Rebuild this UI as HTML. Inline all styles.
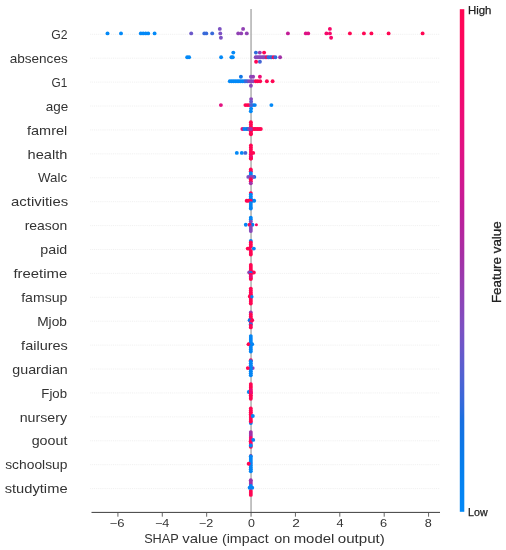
<!DOCTYPE html>
<html><head><meta charset="utf-8"><title>SHAP summary</title>
<style>
html,body{margin:0;padding:0;background:#fff;}
body{width:506px;height:550px;overflow:hidden;font-family:"Liberation Sans",sans-serif;}
svg{display:block;will-change:transform;}
svg text{font-family:"Liberation Sans",sans-serif;fill:#333333;}
</style></head><body>
<svg width="506" height="550" viewBox="0 0 506 550">
<rect width="506" height="550" fill="#ffffff"/>
<defs><linearGradient id="cb" x1="0" y1="1" x2="0" y2="0"><stop offset="0.000" stop-color="#0389f7"/><stop offset="0.030" stop-color="#0485f4"/><stop offset="0.061" stop-color="#0582f0"/><stop offset="0.091" stop-color="#067eec"/><stop offset="0.121" stop-color="#0b79e8"/><stop offset="0.152" stop-color="#1174e4"/><stop offset="0.182" stop-color="#186fe0"/><stop offset="0.212" stop-color="#326adb"/><stop offset="0.242" stop-color="#4365d6"/><stop offset="0.273" stop-color="#5361d1"/><stop offset="0.303" stop-color="#615ccd"/><stop offset="0.333" stop-color="#6f56c8"/><stop offset="0.364" stop-color="#7c51c2"/><stop offset="0.394" stop-color="#854abc"/><stop offset="0.424" stop-color="#8e44b6"/><stop offset="0.455" stop-color="#973db0"/><stop offset="0.485" stop-color="#9f35aa"/><stop offset="0.515" stop-color="#a72ea4"/><stop offset="0.545" stop-color="#b129a0"/><stop offset="0.576" stop-color="#b9229c"/><stop offset="0.606" stop-color="#c21c97"/><stop offset="0.636" stop-color="#cb1a93"/><stop offset="0.667" stop-color="#d3178d"/><stop offset="0.697" stop-color="#da1488"/><stop offset="0.727" stop-color="#e11282"/><stop offset="0.758" stop-color="#e70f7c"/><stop offset="0.788" stop-color="#ec0d77"/><stop offset="0.818" stop-color="#f00a71"/><stop offset="0.848" stop-color="#f5086c"/><stop offset="0.879" stop-color="#f90667"/><stop offset="0.909" stop-color="#fc0662"/><stop offset="0.939" stop-color="#fd065d"/><stop offset="0.970" stop-color="#ff0658"/><stop offset="1.000" stop-color="#ff0653"/><stop offset="1" stop-color="#ff0653"/></linearGradient></defs>
<g stroke="#ececec" stroke-width="0.8" stroke-dasharray="1 0.9" fill="none">
<line x1="90.2" y1="34.30" x2="440.0" y2="34.30"/><line x1="90.2" y1="58.21" x2="440.0" y2="58.21"/><line x1="90.2" y1="82.12" x2="440.0" y2="82.12"/><line x1="90.2" y1="106.03" x2="440.0" y2="106.03"/><line x1="90.2" y1="129.94" x2="440.0" y2="129.94"/><line x1="90.2" y1="153.85" x2="440.0" y2="153.85"/><line x1="90.2" y1="177.76" x2="440.0" y2="177.76"/><line x1="90.2" y1="201.67" x2="440.0" y2="201.67"/><line x1="90.2" y1="225.58" x2="440.0" y2="225.58"/><line x1="90.2" y1="249.49" x2="440.0" y2="249.49"/><line x1="90.2" y1="273.40" x2="440.0" y2="273.40"/><line x1="90.2" y1="297.31" x2="440.0" y2="297.31"/><line x1="90.2" y1="321.22" x2="440.0" y2="321.22"/><line x1="90.2" y1="345.13" x2="440.0" y2="345.13"/><line x1="90.2" y1="369.04" x2="440.0" y2="369.04"/><line x1="90.2" y1="392.95" x2="440.0" y2="392.95"/><line x1="90.2" y1="416.86" x2="440.0" y2="416.86"/><line x1="90.2" y1="440.77" x2="440.0" y2="440.77"/><line x1="90.2" y1="464.68" x2="440.0" y2="464.68"/><line x1="90.2" y1="488.59" x2="440.0" y2="488.59"/>
</g>
<line x1="251.05" y1="8.9" x2="251.05" y2="512.4" stroke="#aaaaaa" stroke-width="1.4"/>
<g>
<circle cx="107.5" cy="33.4" r="1.95" fill="#0389f7"/><circle cx="121.0" cy="33.4" r="1.95" fill="#0389f7"/><circle cx="140.8" cy="33.4" r="1.95" fill="#0389f7"/><circle cx="143.2" cy="33.4" r="1.95" fill="#0389f7"/><circle cx="145.7" cy="33.4" r="1.95" fill="#0389f7"/><circle cx="148.2" cy="33.4" r="1.95" fill="#0389f7"/><circle cx="154.6" cy="33.4" r="1.95" fill="#0389f7"/><circle cx="191.2" cy="33.4" r="1.95" fill="#6b58c9"/><circle cx="204.3" cy="33.4" r="1.95" fill="#3869d9"/><circle cx="206.3" cy="33.4" r="1.95" fill="#3869d9"/><circle cx="212.2" cy="33.4" r="1.95" fill="#3869d9"/><circle cx="219.8" cy="28.9" r="1.95" fill="#7c51c2"/><circle cx="220.3" cy="33.4" r="1.95" fill="#7c51c2"/><circle cx="220.9" cy="37.8" r="1.95" fill="#7c51c2"/><circle cx="238.2" cy="33.4" r="1.95" fill="#9141b4"/><circle cx="241.2" cy="33.4" r="1.95" fill="#9141b4"/><circle cx="243.1" cy="28.9" r="1.95" fill="#9141b4"/><circle cx="246.8" cy="33.4" r="1.95" fill="#9141b4"/><circle cx="287.9" cy="33.4" r="1.95" fill="#c21c97"/><circle cx="305.8" cy="33.4" r="1.95" fill="#de1284"/><circle cx="308.2" cy="33.4" r="1.95" fill="#de1284"/><circle cx="326.4" cy="33.4" r="1.95" fill="#f6086a"/><circle cx="329.9" cy="28.9" r="1.95" fill="#f6086a"/><circle cx="329.9" cy="33.4" r="1.95" fill="#f6086a"/><circle cx="331.1" cy="37.8" r="1.95" fill="#f6086a"/><circle cx="349.9" cy="33.4" r="1.95" fill="#ff0653"/><circle cx="363.9" cy="33.4" r="1.95" fill="#ff0653"/><circle cx="371.4" cy="33.4" r="1.95" fill="#ff0653"/><circle cx="388.6" cy="33.4" r="1.95" fill="#ff0653"/><circle cx="422.6" cy="33.4" r="1.95" fill="#ff0653"/><circle cx="187.2" cy="57.3" r="1.95" fill="#0389f7"/><circle cx="189.1" cy="57.3" r="1.95" fill="#0389f7"/><circle cx="221.1" cy="57.3" r="1.95" fill="#0389f7"/><circle cx="231.4" cy="57.3" r="1.95" fill="#0389f7"/><circle cx="232.8" cy="57.3" r="1.95" fill="#0389f7"/><circle cx="233.3" cy="52.6" r="1.95" fill="#0389f7"/><circle cx="255.7" cy="57.3" r="1.95" fill="#8848ba"/><circle cx="257.2" cy="57.3" r="1.95" fill="#8848ba"/><circle cx="258.9" cy="57.3" r="1.95" fill="#8848ba"/><circle cx="260.4" cy="57.3" r="1.95" fill="#8848ba"/><circle cx="262.1" cy="57.3" r="1.95" fill="#8848ba"/><circle cx="263.6" cy="57.3" r="1.95" fill="#8848ba"/><circle cx="265.2" cy="57.3" r="1.95" fill="#8848ba"/><circle cx="266.9" cy="57.3" r="1.95" fill="#ff0653"/><circle cx="268.4" cy="57.3" r="1.95" fill="#2c6cdc"/><circle cx="270.1" cy="57.3" r="1.95" fill="#2c6cdc"/><circle cx="271.6" cy="57.3" r="1.95" fill="#2c6cdc"/><circle cx="273.6" cy="57.3" r="1.95" fill="#ff0653"/><circle cx="275.4" cy="57.3" r="1.95" fill="#2c6cdc"/><circle cx="280.1" cy="57.3" r="1.95" fill="#a132a7"/><circle cx="255.9" cy="52.6" r="1.95" fill="#2c6cdc"/><circle cx="259.8" cy="52.6" r="1.95" fill="#993aae"/><circle cx="264.1" cy="52.6" r="1.95" fill="#ff0653"/><circle cx="256.1" cy="61.8" r="1.95" fill="#ff0653"/><circle cx="259.9" cy="61.8" r="1.95" fill="#4365d6"/><circle cx="229.8" cy="81.2" r="1.95" fill="#0389f7"/><circle cx="231.7" cy="81.2" r="1.95" fill="#0389f7"/><circle cx="233.5" cy="81.2" r="1.95" fill="#0389f7"/><circle cx="235.3" cy="81.2" r="1.95" fill="#0389f7"/><circle cx="237.1" cy="81.2" r="1.95" fill="#0389f7"/><circle cx="238.9" cy="81.2" r="1.95" fill="#0389f7"/><circle cx="240.7" cy="81.2" r="1.95" fill="#0389f7"/><circle cx="242.5" cy="81.2" r="1.95" fill="#0389f7"/><circle cx="244.3" cy="81.2" r="1.95" fill="#0389f7"/><circle cx="245.8" cy="81.2" r="1.95" fill="#4365d6"/><circle cx="247.4" cy="81.2" r="1.95" fill="#4365d6"/><circle cx="249.2" cy="81.2" r="1.95" fill="#8848ba"/><circle cx="251.2" cy="81.2" r="1.95" fill="#8848ba"/><circle cx="253.2" cy="81.2" r="1.95" fill="#8848ba"/><circle cx="255.8" cy="81.2" r="1.95" fill="#ff0653"/><circle cx="257.8" cy="81.2" r="1.95" fill="#ff0653"/><circle cx="260.2" cy="81.2" r="1.95" fill="#ff0653"/><circle cx="266.9" cy="81.2" r="1.95" fill="#ff0653"/><circle cx="272.6" cy="81.2" r="1.95" fill="#ff0653"/><circle cx="240.9" cy="76.7" r="1.95" fill="#1174e4"/><circle cx="250.9" cy="76.7" r="1.95" fill="#8848ba"/><circle cx="253.1" cy="76.7" r="1.95" fill="#943fb2"/><circle cx="259.9" cy="76.7" r="1.95" fill="#ee0c75"/><circle cx="250.9" cy="85.7" r="1.95" fill="#8848ba"/><circle cx="220.9" cy="105.1" r="1.95" fill="#e31180"/><circle cx="271.4" cy="105.1" r="1.95" fill="#0389f7"/><circle cx="245.4" cy="105.1" r="1.95" fill="#ff0653"/><circle cx="247.4" cy="105.1" r="1.95" fill="#ff0653"/><circle cx="249.2" cy="105.1" r="1.95" fill="#ff0653"/><circle cx="251.1" cy="108.6" r="1.95" fill="#0389f7"/><circle cx="250.8" cy="111.3" r="1.95" fill="#0389f7"/><circle cx="251.1" cy="99.1" r="1.95" fill="#8848ba"/><circle cx="251.1" cy="101.7" r="1.95" fill="#615ccd"/><circle cx="252.8" cy="105.1" r="1.95" fill="#0583f1"/><circle cx="254.8" cy="105.1" r="1.95" fill="#0583f1"/><circle cx="251.1" cy="105.1" r="1.95" fill="#4964d5"/><circle cx="242.4" cy="129.0" r="1.95" fill="#ee0c75"/><circle cx="244.2" cy="129.0" r="1.95" fill="#0583f1"/><circle cx="246.1" cy="129.0" r="1.95" fill="#0583f1"/><circle cx="247.8" cy="129.0" r="1.95" fill="#1174e4"/><circle cx="250.9" cy="122.3" r="1.95" fill="#ff0653"/><circle cx="250.9" cy="124.5" r="1.95" fill="#ff0653"/><circle cx="250.9" cy="126.7" r="1.95" fill="#ff0653"/><circle cx="250.9" cy="131.2" r="1.95" fill="#ff0653"/><circle cx="250.9" cy="133.3" r="1.95" fill="#ff0653"/><circle cx="250.9" cy="134.3" r="1.95" fill="#ff0653"/><circle cx="252.8" cy="129.0" r="1.95" fill="#ff0653"/><circle cx="254.3" cy="129.0" r="1.95" fill="#ff0653"/><circle cx="255.9" cy="129.0" r="1.95" fill="#ff0653"/><circle cx="257.5" cy="129.0" r="1.95" fill="#ff0653"/><circle cx="259.1" cy="129.0" r="1.95" fill="#ff0653"/><circle cx="260.8" cy="129.0" r="1.95" fill="#ff0653"/><circle cx="249.2" cy="129.0" r="1.95" fill="#8848ba"/><circle cx="250.9" cy="129.0" r="1.95" fill="#a132a7"/><circle cx="236.8" cy="152.9" r="1.95" fill="#0389f7"/><circle cx="241.8" cy="152.9" r="1.95" fill="#0389f7"/><circle cx="245.4" cy="152.9" r="1.95" fill="#4365d6"/><circle cx="250.9" cy="145.4" r="1.95" fill="#ff0653"/><circle cx="250.9" cy="147.6" r="1.95" fill="#ff0653"/><circle cx="250.9" cy="149.8" r="1.95" fill="#ff0653"/><circle cx="250.9" cy="152.0" r="1.95" fill="#ff0653"/><circle cx="250.9" cy="154.2" r="1.95" fill="#ff0653"/><circle cx="250.9" cy="156.4" r="1.95" fill="#ff0653"/><circle cx="250.9" cy="158.6" r="1.95" fill="#ff0653"/><circle cx="250.9" cy="157.1" r="1.95" fill="#e5107e"/><circle cx="250.9" cy="158.6" r="1.95" fill="#ff0653"/><circle cx="253.2" cy="152.9" r="1.95" fill="#ff0653"/><circle cx="250.8" cy="169.4" r="1.95" fill="#ff0653"/><circle cx="250.8" cy="171.3" r="1.95" fill="#ff0653"/><circle cx="250.8" cy="173.1" r="1.95" fill="#0583f1"/><circle cx="250.8" cy="174.8" r="1.95" fill="#0583f1"/><circle cx="254.3" cy="176.9" r="1.95" fill="#1174e4"/><circle cx="248.3" cy="176.9" r="1.95" fill="#7c51c2"/><circle cx="252.8" cy="176.9" r="1.95" fill="#7c51c2"/><circle cx="250.8" cy="176.9" r="1.95" fill="#8b46b8"/><circle cx="250.8" cy="179.3" r="1.95" fill="#ff0653"/><circle cx="250.8" cy="181.3" r="1.95" fill="#ff0653"/><circle cx="250.8" cy="183.2" r="1.95" fill="#9f35aa"/><circle cx="250.8" cy="193.1" r="1.95" fill="#ff0653"/><circle cx="250.8" cy="194.6" r="1.95" fill="#0485f4"/><circle cx="250.8" cy="196.6" r="1.95" fill="#0485f4"/><circle cx="250.8" cy="198.4" r="1.95" fill="#0485f4"/><circle cx="246.7" cy="200.8" r="1.95" fill="#ff0653"/><circle cx="248.2" cy="200.8" r="1.95" fill="#ff0653"/><circle cx="252.2" cy="200.8" r="1.95" fill="#0485f4"/><circle cx="254.2" cy="200.8" r="1.95" fill="#0485f4"/><circle cx="250.6" cy="200.8" r="1.95" fill="#ff0653"/><circle cx="250.8" cy="203.1" r="1.95" fill="#0485f4"/><circle cx="250.8" cy="205.1" r="1.95" fill="#0485f4"/><circle cx="250.8" cy="207.1" r="1.95" fill="#0485f4"/><circle cx="250.8" cy="208.5" r="1.95" fill="#0485f4"/><circle cx="250.8" cy="217.8" r="1.95" fill="#0485f4"/><circle cx="250.8" cy="219.6" r="1.95" fill="#0485f4"/><circle cx="250.8" cy="221.6" r="1.95" fill="#8848ba"/><circle cx="245.8" cy="224.7" r="1.95" fill="#0485f4"/><circle cx="252.4" cy="224.7" r="1.95" fill="#0583f1"/><circle cx="249.6" cy="224.7" r="1.95" fill="#ff0653"/><circle cx="256.4" cy="224.7" r="1.50" fill="#fb0663"/><circle cx="250.8" cy="227.1" r="1.95" fill="#8848ba"/><circle cx="250.8" cy="229.1" r="1.95" fill="#8848ba"/><circle cx="250.8" cy="231.0" r="1.95" fill="#8848ba"/><circle cx="250.8" cy="241.0" r="1.95" fill="#0485f4"/><circle cx="250.8" cy="242.5" r="1.95" fill="#ff0653"/><circle cx="250.8" cy="244.5" r="1.95" fill="#ff0653"/><circle cx="250.8" cy="246.5" r="1.95" fill="#ff0653"/><circle cx="253.8" cy="248.6" r="1.95" fill="#0485f4"/><circle cx="247.7" cy="248.6" r="1.95" fill="#ff0653"/><circle cx="249.2" cy="248.6" r="1.95" fill="#ff0653"/><circle cx="250.8" cy="251.0" r="1.95" fill="#ff0653"/><circle cx="250.8" cy="253.0" r="1.95" fill="#ff0653"/><circle cx="250.8" cy="254.6" r="1.95" fill="#ff0653"/><circle cx="250.8" cy="265.0" r="1.95" fill="#ff0653"/><circle cx="250.8" cy="266.9" r="1.95" fill="#ff0653"/><circle cx="250.8" cy="268.9" r="1.95" fill="#ff0653"/><circle cx="250.8" cy="270.7" r="1.95" fill="#ff0653"/><circle cx="249.2" cy="272.5" r="1.95" fill="#943fb2"/><circle cx="252.4" cy="272.5" r="1.95" fill="#ff0653"/><circle cx="253.8" cy="272.5" r="1.95" fill="#ff0653"/><circle cx="250.9" cy="272.5" r="1.60" fill="#067deb"/><circle cx="250.8" cy="274.7" r="1.95" fill="#ff0653"/><circle cx="250.8" cy="278.1" r="1.95" fill="#ff0653"/><circle cx="250.8" cy="279.0" r="1.95" fill="#ff0653"/><circle cx="250.8" cy="276.4" r="1.95" fill="#e5107e"/><circle cx="250.8" cy="288.6" r="1.95" fill="#ff0653"/><circle cx="250.8" cy="290.5" r="1.95" fill="#ff0653"/><circle cx="250.8" cy="292.4" r="1.95" fill="#ff0653"/><circle cx="250.8" cy="294.2" r="1.95" fill="#ff0653"/><circle cx="250.8" cy="296.1" r="1.95" fill="#ff0653"/><circle cx="250.8" cy="298.0" r="1.95" fill="#ff0653"/><circle cx="250.8" cy="299.9" r="1.95" fill="#ff0653"/><circle cx="250.8" cy="301.7" r="1.95" fill="#ff0653"/><circle cx="250.8" cy="303.6" r="1.95" fill="#ff0653"/><circle cx="249.8" cy="296.4" r="1.95" fill="#ff0653"/><circle cx="251.9" cy="296.8" r="1.70" fill="#0583f1"/><circle cx="250.8" cy="312.4" r="1.95" fill="#9f35aa"/><circle cx="250.8" cy="314.4" r="1.95" fill="#ff0653"/><circle cx="250.8" cy="316.4" r="1.95" fill="#ff0653"/><circle cx="250.8" cy="318.2" r="1.95" fill="#ff0653"/><circle cx="249.6" cy="320.3" r="1.95" fill="#1174e4"/><circle cx="252.2" cy="320.3" r="1.95" fill="#ff0653"/><circle cx="250.8" cy="322.7" r="1.95" fill="#ff0653"/><circle cx="250.8" cy="324.2" r="1.95" fill="#2c6cdc"/><circle cx="250.8" cy="325.7" r="1.95" fill="#ff0653"/><circle cx="250.8" cy="327.4" r="1.95" fill="#ff0653"/><circle cx="248.9" cy="344.2" r="1.95" fill="#ff0653"/><circle cx="250.8" cy="336.1" r="1.95" fill="#0485f4"/><circle cx="250.8" cy="338.1" r="1.95" fill="#0485f4"/><circle cx="250.8" cy="340.0" r="1.95" fill="#0485f4"/><circle cx="250.8" cy="341.9" r="1.95" fill="#0485f4"/><circle cx="250.8" cy="343.8" r="1.95" fill="#0485f4"/><circle cx="250.8" cy="345.8" r="1.95" fill="#0485f4"/><circle cx="250.8" cy="347.7" r="1.95" fill="#0485f4"/><circle cx="250.8" cy="349.6" r="1.95" fill="#0485f4"/><circle cx="250.8" cy="351.5" r="1.95" fill="#0485f4"/><circle cx="252.2" cy="344.2" r="1.95" fill="#0485f4"/><circle cx="248.4" cy="344.2" r="1.80" fill="#ff0653"/><circle cx="250.8" cy="360.2" r="1.95" fill="#ff0653"/><circle cx="252.7" cy="368.1" r="1.95" fill="#943fb2"/><circle cx="250.8" cy="361.3" r="1.95" fill="#0485f4"/><circle cx="250.8" cy="363.3" r="1.95" fill="#0485f4"/><circle cx="250.8" cy="365.3" r="1.95" fill="#0485f4"/><circle cx="250.8" cy="367.3" r="1.95" fill="#0485f4"/><circle cx="250.8" cy="369.3" r="1.95" fill="#0485f4"/><circle cx="250.8" cy="371.3" r="1.95" fill="#0485f4"/><circle cx="250.8" cy="373.3" r="1.95" fill="#0485f4"/><circle cx="250.8" cy="375.2" r="1.95" fill="#0485f4"/><circle cx="247.8" cy="368.1" r="1.95" fill="#ff0653"/><circle cx="248.8" cy="392.0" r="1.95" fill="#0485f4"/><circle cx="250.8" cy="384.1" r="1.95" fill="#ff0653"/><circle cx="250.8" cy="386.0" r="1.95" fill="#ff0653"/><circle cx="250.8" cy="387.8" r="1.95" fill="#ff0653"/><circle cx="250.8" cy="389.7" r="1.95" fill="#ff0653"/><circle cx="250.8" cy="391.5" r="1.95" fill="#ff0653"/><circle cx="250.8" cy="393.3" r="1.95" fill="#ff0653"/><circle cx="250.8" cy="395.2" r="1.95" fill="#ff0653"/><circle cx="250.8" cy="397.0" r="1.95" fill="#ff0653"/><circle cx="250.8" cy="398.8" r="1.95" fill="#ff0653"/><circle cx="250.8" cy="389.7" r="1.50" fill="#eb0d78"/><circle cx="251.2" cy="392.4" r="1.50" fill="#eb0d78"/><circle cx="250.8" cy="408.5" r="1.95" fill="#ff0653"/><circle cx="250.8" cy="410.4" r="1.95" fill="#ff0653"/><circle cx="250.8" cy="412.3" r="1.95" fill="#ff0653"/><circle cx="250.8" cy="414.2" r="1.95" fill="#ff0653"/><circle cx="250.8" cy="416.1" r="1.95" fill="#ff0653"/><circle cx="250.8" cy="418.0" r="1.95" fill="#ff0653"/><circle cx="250.8" cy="419.9" r="1.95" fill="#ff0653"/><circle cx="252.8" cy="416.0" r="1.95" fill="#0485f4"/><circle cx="250.8" cy="423.1" r="1.95" fill="#0485f4"/><circle cx="250.8" cy="421.6" r="1.95" fill="#ff0653"/><circle cx="250.8" cy="432.1" r="1.95" fill="#a132a7"/><circle cx="250.8" cy="433.9" r="1.95" fill="#a132a7"/><circle cx="250.8" cy="435.9" r="1.95" fill="#a132a7"/><circle cx="250.8" cy="437.9" r="1.95" fill="#f5086c"/><circle cx="250.8" cy="439.9" r="1.95" fill="#f5086c"/><circle cx="250.8" cy="441.9" r="1.95" fill="#f5086c"/><circle cx="250.8" cy="443.9" r="1.95" fill="#f5086c"/><circle cx="250.8" cy="446.7" r="1.95" fill="#ff0653"/><circle cx="250.8" cy="445.5" r="1.95" fill="#0485f4"/><circle cx="253.2" cy="439.9" r="1.95" fill="#0485f4"/><circle cx="250.2" cy="441.4" r="1.50" fill="#ff0653"/><circle cx="250.8" cy="455.6" r="1.50" fill="#ff0653"/><circle cx="250.8" cy="456.3" r="1.95" fill="#0485f4"/><circle cx="250.8" cy="458.1" r="1.95" fill="#0485f4"/><circle cx="250.8" cy="460.0" r="1.95" fill="#0485f4"/><circle cx="250.8" cy="461.9" r="1.95" fill="#0485f4"/><circle cx="250.8" cy="463.7" r="1.95" fill="#0485f4"/><circle cx="250.8" cy="465.6" r="1.95" fill="#0485f4"/><circle cx="250.8" cy="467.5" r="1.95" fill="#0485f4"/><circle cx="250.8" cy="469.3" r="1.95" fill="#0485f4"/><circle cx="250.8" cy="471.2" r="1.95" fill="#0485f4"/><circle cx="248.7" cy="463.8" r="1.95" fill="#ff0653"/><circle cx="250.8" cy="480.2" r="1.95" fill="#a132a7"/><circle cx="250.8" cy="482.0" r="1.95" fill="#a132a7"/><circle cx="250.8" cy="484.0" r="1.95" fill="#a132a7"/><circle cx="250.8" cy="491.0" r="1.95" fill="#ff0653"/><circle cx="250.8" cy="493.0" r="1.95" fill="#ff0653"/><circle cx="250.8" cy="494.9" r="1.95" fill="#ff0653"/><circle cx="250.8" cy="486.0" r="1.95" fill="#0485f4"/><circle cx="249.6" cy="487.7" r="1.95" fill="#0485f4"/><circle cx="252.2" cy="487.7" r="1.95" fill="#0485f4"/>
</g>
<g stroke="#333333" fill="none">
<line x1="91.5" y1="512.40" x2="440.0" y2="512.40" stroke-width="0.95"/><line x1="117.91" y1="512.40" x2="117.91" y2="516.70" stroke-width="0.9" stroke="#555555"/><line x1="162.29" y1="512.40" x2="162.29" y2="516.70" stroke-width="0.9" stroke="#555555"/><line x1="206.67" y1="512.40" x2="206.67" y2="516.70" stroke-width="0.9" stroke="#555555"/><line x1="251.05" y1="512.40" x2="251.05" y2="516.70" stroke-width="0.9" stroke="#555555"/><line x1="295.43" y1="512.40" x2="295.43" y2="516.70" stroke-width="0.9" stroke="#555555"/><line x1="339.81" y1="512.40" x2="339.81" y2="516.70" stroke-width="0.9" stroke="#555555"/><line x1="384.19" y1="512.40" x2="384.19" y2="516.70" stroke-width="0.9" stroke="#555555"/><line x1="428.57" y1="512.40" x2="428.57" y2="516.70" stroke-width="0.9" stroke="#555555"/>
</g>
<text x="109.54" y="526.90" font-size="10.3" text-anchor="start" textLength="14.89" lengthAdjust="spacingAndGlyphs">−6</text>
<text x="154.90" y="526.90" font-size="10.3" text-anchor="start" textLength="14.37" lengthAdjust="spacingAndGlyphs">−4</text>
<text x="198.80" y="526.90" font-size="10.3" text-anchor="start" textLength="14.39" lengthAdjust="spacingAndGlyphs">−2</text>
<text x="248.14" y="526.90" font-size="10.3" text-anchor="start" textLength="6.91" lengthAdjust="spacingAndGlyphs">0</text>
<text x="292.16" y="526.90" font-size="10.3" text-anchor="start" textLength="7.60" lengthAdjust="spacingAndGlyphs">2</text>
<text x="336.42" y="526.90" font-size="10.3" text-anchor="start" textLength="7.09" lengthAdjust="spacingAndGlyphs">4</text>
<text x="379.92" y="526.90" font-size="10.3" text-anchor="start" textLength="7.12" lengthAdjust="spacingAndGlyphs">6</text>
<text x="424.88" y="526.90" font-size="10.3" text-anchor="start" textLength="7.03" lengthAdjust="spacingAndGlyphs">8</text>
<text x="144.15" y="543.30" font-size="12.8" text-anchor="start" textLength="34.65" lengthAdjust="spacingAndGlyphs">SHAP</text>
<text x="182.33" y="543.30" font-size="12.8" text-anchor="start" textLength="35.70" lengthAdjust="spacingAndGlyphs">value</text>
<text x="221.93" y="543.30" font-size="12.8" text-anchor="start" textLength="46.74" lengthAdjust="spacingAndGlyphs">(impact</text>
<text x="274.27" y="543.30" font-size="12.8" text-anchor="start" textLength="16.03" lengthAdjust="spacingAndGlyphs">on</text>
<text x="293.68" y="543.30" font-size="12.8" text-anchor="start" textLength="40.70" lengthAdjust="spacingAndGlyphs">model</text>
<text x="337.77" y="543.30" font-size="12.8" text-anchor="start" textLength="47.07" lengthAdjust="spacingAndGlyphs">output)</text>
<text x="67.61" y="39.00" font-size="12.8" text-anchor="end" textLength="16.25" lengthAdjust="spacingAndGlyphs">G2</text>
<text x="67.74" y="62.91" font-size="12.8" text-anchor="end" textLength="58.08" lengthAdjust="spacingAndGlyphs">absences</text>
<text x="67.30" y="86.82" font-size="12.8" text-anchor="end" textLength="15.74" lengthAdjust="spacingAndGlyphs">G1</text>
<text x="68.14" y="110.73" font-size="12.8" text-anchor="end" textLength="22.46" lengthAdjust="spacingAndGlyphs">age</text>
<text x="67.25" y="134.64" font-size="12.8" text-anchor="end" textLength="40.22" lengthAdjust="spacingAndGlyphs">famrel</text>
<text x="67.41" y="158.55" font-size="12.8" text-anchor="end" textLength="39.79" lengthAdjust="spacingAndGlyphs">health</text>
<text x="67.06" y="182.46" font-size="12.8" text-anchor="end" textLength="29.04" lengthAdjust="spacingAndGlyphs">Walc</text>
<text x="68.12" y="206.37" font-size="12.8" text-anchor="end" textLength="57.05" lengthAdjust="spacingAndGlyphs">activities</text>
<text x="67.29" y="230.28" font-size="12.8" text-anchor="end" textLength="42.64" lengthAdjust="spacingAndGlyphs">reason</text>
<text x="67.27" y="254.19" font-size="12.8" text-anchor="end" textLength="27.00" lengthAdjust="spacingAndGlyphs">paid</text>
<text x="67.18" y="278.10" font-size="12.8" text-anchor="end" textLength="53.73" lengthAdjust="spacingAndGlyphs">freetime</text>
<text x="67.33" y="302.01" font-size="12.8" text-anchor="end" textLength="46.15" lengthAdjust="spacingAndGlyphs">famsup</text>
<text x="66.92" y="325.92" font-size="12.8" text-anchor="end" textLength="29.75" lengthAdjust="spacingAndGlyphs">Mjob</text>
<text x="67.85" y="349.83" font-size="12.8" text-anchor="end" textLength="46.71" lengthAdjust="spacingAndGlyphs">failures</text>
<text x="67.80" y="373.74" font-size="12.8" text-anchor="end" textLength="55.51" lengthAdjust="spacingAndGlyphs">guardian</text>
<text x="67.03" y="397.65" font-size="12.8" text-anchor="end" textLength="25.68" lengthAdjust="spacingAndGlyphs">Fjob</text>
<text x="67.04" y="421.56" font-size="12.8" text-anchor="end" textLength="47.33" lengthAdjust="spacingAndGlyphs">nursery</text>
<text x="67.39" y="445.47" font-size="12.8" text-anchor="end" textLength="35.71" lengthAdjust="spacingAndGlyphs">goout</text>
<text x="67.44" y="469.38" font-size="12.8" text-anchor="end" textLength="62.26" lengthAdjust="spacingAndGlyphs">schoolsup</text>
<text x="67.56" y="493.29" font-size="12.8" text-anchor="end" textLength="62.90" lengthAdjust="spacingAndGlyphs">studytime</text>
<rect x="459.80" y="9.20" width="4.50" height="502.60" fill="url(#cb)"/>
<text x="468.02" y="14.00" font-size="10.4" text-anchor="start" textLength="23.45" lengthAdjust="spacingAndGlyphs" style="fill:#222222;stroke:#222222;stroke-width:0.25">High</text>
<text x="468.08" y="516.30" font-size="10.4" text-anchor="start" textLength="19.51" lengthAdjust="spacingAndGlyphs" style="fill:#222222;stroke:#222222;stroke-width:0.25">Low</text>
<text transform="translate(501.20,262.20) rotate(-90)" font-size="12.2" text-anchor="middle" style="fill:#222222;stroke:#222222;stroke-width:0.3" textLength="81.80" lengthAdjust="spacingAndGlyphs">Feature value</text>
</svg>
</body></html>
